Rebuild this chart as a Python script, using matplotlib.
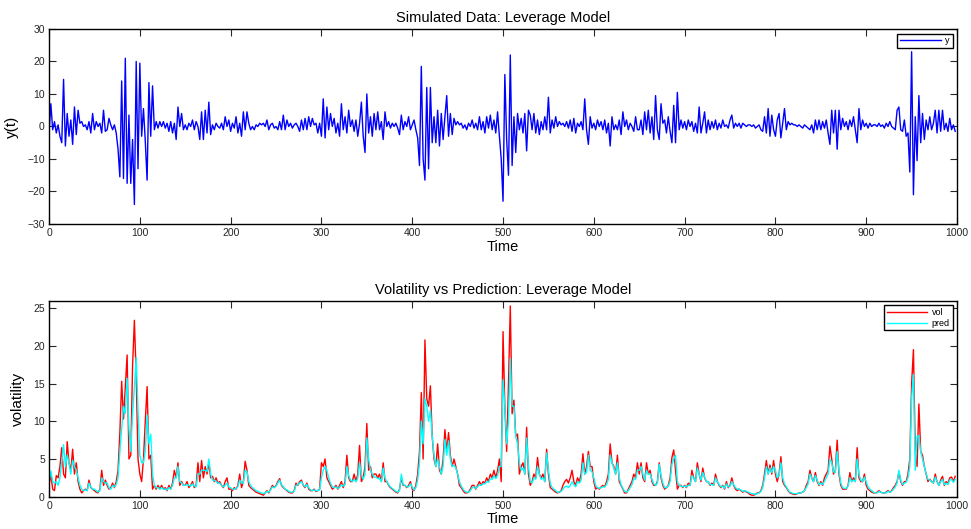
import numpy as np
import matplotlib
matplotlib.use("Agg")
import matplotlib.pyplot as plt

plt.rcParams["font.family"] = ["Liberation Sans", "DejaVu Sans"]

# time index (every second observation of the 1000-step simulation)
t = np.arange(0, 1000, 2)

# simulated returns y(t)
y = [
    -2, 7, -1, 1.5, -2, 0.5, -3, -5, 14.5, -6, 4, -3, 2, -5.5, 6, -2.5, 5, 1, 1.5, 0, 0.5, -1, 1.5, -2, 4,
    -1, 1.5, 0, 1, -2, 5, -1.5, -1, 2.5, 0.5, -1, 0.5, -2, -7, -15.5, 14, -16, 21, -17.5, 3.5, -17.5, -4, -24, 20, -13,
    19.5, -3, 5.5, -4.5, -16.5, 13.5, -3, 12.5, -1, 1.5, -0.5, 1.5, 0, 1.5, -0.5, 1, -1.5, 1.5, -2, 1, -4, 6, 0, 4, -1,
    0.5, -1, 1, 0, 2, -1, 1.5, 0, -4, 4.5, -4, 5, -2, 7.5, -2.5, 0.5, -1, 1, 0, -0.5, 1, -1, 3, 0, 2,
    -1.5, 1, -0.5, 3, -2, 1, -3, 4.5, -1, 4.5, 1, -1, 0, -1, 0.5, 0, 1, 0.5, 1, 0, 2, -1, 0.5, 1, -0.5,
    0, -1, 1.5, -1, 3.5, -1, 2, 0, 1, -0.5, 0.5, 1, 0, -1.5, 2, -1, 2.5, -1, 3, 0, 2.5, 0.5, 1, -2, 1,
    -3, 8.5, -3.5, 6, -1, 4, 0, 2.5, -2, 1, -3, 7, -1, 3, -2, 5, 0, 2, -1.5, 2, -3, 1, 7.5, -3, -8,
    10, -2, 3, -3, 4, -1, 4.5, -1, 1.5, -4, 4.5, 0, 1.5, -0.5, 1, 0, 1, -0.5, -2.5, 3.5, -1, 1.5, 0, 3, -1,
    0.5, 2, -1, -3.5, -12, 18.5, -10, -16.5, 12, -13, 12, -5, 3, -5, 5, -6, 4, -4, 3, 9.5, -3, 4, -2.5, 2.5, 0.5,
    1.5, 0.5, 1, -0.5, 0.5, -1, 1, 0, 2, -0.5, 1, -1, 3, -1, 1.5, -2, 3, -0.5, 3.5, -1, 2, -2, 4.5, -3, -10,
    -23, 16, -4, -15, 22, -12, 3, -8, 4, -1, 2.5, -2, 4, -7.5, 5, 3.5, -1, 4, -2, 2, -2.5, 1.5, -1, 3, -1,
    9, -2, 2, -0.5, 3, 0, 1.5, 0.5, 1, 0, 1.5, -0.5, 2, -1.5, 2.5, -2, 1, 0, 1.5, -1, 8.5, -1, -5.5, 3, -0.5,
    1, -1, 2, 0, 1.5, -1, 2, -2, 1, -6, 3, -1, 0.5, -1, 2, -2.5, 4.5, 0, 2, -1, 1, 0, -1.5, 3, -1,
    -1, 2, -2.5, 4.5, -1, 5, -2, 3, -4, 9.5, -1, -4, 7, 1, 2, -2, 3, -1.5, -5, 6.5, -5, 10.5, -1, 2, -0.5,
    1.5, -1, 2, 0, 1.5, -1.5, 1, -2, 6, -2, 1, 4.5, -2, 2, -1, 1.5, -0.5, 2, -1, 1, -0.5, 2, 0, 0.5, -0.5,
    2, 3.5, -0.5, 1, 0, 1, -0.5, 1, 0.5, 0, 0.5, 0.5, 0, 0.5, -0.5, 0, 0.5, -1, -1.5, 3, -2, 5.5, -3, 3.5, -1,
    -3, 2, 4, -3.5, 1, 5.5, -1, 1.5, 0.5, 1, 0.5, 0.5, 0, 0.5, 0, -0.5, 0.5, 0, -0.5, -1, 0.5, -2, 2, -1, 2,
    -1, 1.5, -0.5, 2, -2, -5.5, 5, -2, 5, -7, 5, -1, 2.5, 0, 1.5, -1, 2, 0, 3, -1, -5, 5.5, -1, 2, 0,
    1, -0.5, 1, 0, 0.5, 0.5, 0, 1, 0, 0.5, -0.5, 1, 0, 1.5, 0, -0.5, -1, 5, 6, -1, -1.5, 2, -3, -2, -14,
    23, -21, 3, -10.5, 9.5, -5, 4, -4, 2, -1, 3, -1, 1, 5, -2, 5, -1.5, 5, -1, 1, -1.5, 2.5, -1, 0.5, -1.5,
]

# true volatility
vol = [
    1.5, 3, 1, 0.8, 2.8, 2.5, 4, 6.5, 3, 2.5, 7.3, 4.5, 3.5, 6.3, 3, 4.5, 2, 1, 0.5, 0.8, 1, 0.8, 2.2, 1.2, 1,
    0.8, 0.6, 0.5, 1, 3.5, 1.5, 2.2, 1.5, 1, 1.2, 1.8, 1.2, 2, 3.5, 8.5, 15.3, 10.3, 14.5, 18.8, 5, 5.5, 17.3, 23.4, 16, 5,
    3, 2, 5, 10, 14.6, 5, 5.5, 1, 1.5, 1, 1.5, 1, 1.5, 1, 1.2, 0.8, 1.5, 1, 1.8, 3.5, 2.5, 4.5, 1.5, 2, 1.5,
    1.5, 2, 1.2, 1.5, 2, 1.2, 1.5, 4.5, 2, 4.8, 2.5, 4, 3, 4.5, 2.5, 2.7, 2, 2.5, 1.8, 2, 1.5, 1.2, 2, 2.5, 1,
    1, 0.8, 1.2, 1, 1.5, 3, 1.2, 2, 4.7, 3.5, 1.5, 1.2, 1, 0.8, 0.6, 0.5, 0.4, 0.3, 0.2, 0.5, 0.8, 0.5, 1, 1.5, 1.2,
    1.5, 2, 2.4, 1.5, 1.2, 1, 0.8, 0.6, 0.5, 0.5, 0.8, 1.8, 1.5, 2, 2.2, 1.5, 1.2, 1.8, 1, 0.8, 0.8, 1, 0.7, 0.8, 1,
    4.5, 4, 5, 2.5, 2, 1.5, 1, 1.2, 1.5, 1, 1.5, 2, 1.2, 2, 5.5, 2.5, 2, 2, 3, 2, 3, 6.8, 2, 2.5, 4,
    9.7, 3.5, 4, 2.5, 3, 3, 2.5, 3, 2, 4.5, 2, 2, 1.5, 1.2, 1, 0.8, 0.6, 0.5, 1, 2.5, 1.5, 1.5, 1.2, 1.5, 2,
    1, 0.8, 1.5, 3, 6, 13.8, 5, 20.8, 13, 12, 14.7, 8, 5, 4, 7, 3.5, 3, 5, 8.9, 6, 8.5, 5.5, 4, 5, 4,
    3, 1.5, 1.2, 0.8, 0.5, 0.5, 0.6, 1, 1.5, 1.5, 1, 1.5, 2, 1.5, 2, 1.8, 2.5, 2, 3, 2.5, 3.5, 2.5, 3.5, 5, 2,
    21.9, 12, 6, 15, 25.3, 11, 12.8, 8, 8.3, 3, 4, 4.5, 3, 9.2, 3, 1.5, 2, 3, 2.5, 5.2, 3, 2.5, 3, 2, 6.3,
    3, 1.2, 1, 0.8, 0.6, 0.5, 0.6, 0.8, 1.5, 2, 2.3, 1.8, 2.5, 3.5, 2, 1.5, 2.5, 2, 3, 5.7, 3, 4, 6, 4, 4,
    2, 1, 1.2, 1, 1.3, 1.5, 1.3, 2, 3, 7, 4.5, 4, 3, 5.5, 2, 1.5, 1, 0.5, 0.5, 1, 1.5, 2, 3, 2.5, 4.5,
    3, 4.5, 2.5, 2, 4.5, 3, 3.5, 2, 1.5, 1.5, 2, 4.5, 2.5, 1.5, 1, 1.2, 1.5, 2.5, 5.2, 6.2, 3.5, 1, 1.5, 1.5, 1.2,
    1.5, 1.2, 1.8, 1.5, 3.5, 2.5, 2, 4.5, 3, 2, 3.8, 2.5, 2, 2, 1.5, 1.8, 1.5, 3, 2, 1.5, 1.2, 1.5, 1, 2, 1.2,
    1.5, 2.5, 1.5, 1, 0.8, 1, 0.8, 0.6, 0.8, 0.6, 0.5, 0.3, 0.2, 0.2, 0.3, 0.5, 0.5, 0.8, 1.5, 3, 4.8, 3, 4.2, 3, 4.8,
    3, 2, 3, 5.3, 2, 1.5, 1.2, 0.8, 0.5, 0.4, 0.3, 0.3, 0.4, 0.5, 0.5, 0.6, 0.8, 1.5, 2, 3.5, 2.5, 2, 3.2, 2, 1.5,
    2, 1.5, 2.5, 3, 3.5, 6.7, 5, 3, 3.5, 7.5, 3, 1.5, 1, 1, 1, 1.5, 3.2, 2, 2.5, 2, 6.5, 2.5, 2, 2, 3,
    1.5, 1, 0.8, 0.6, 0.5, 0.5, 0.6, 0.8, 0.6, 0.5, 0.5, 0.6, 0.8, 0.6, 0.8, 1.2, 1.5, 2, 3.3, 2, 1.5, 2, 2, 3, 5,
    15, 19.5, 6, 4, 12.3, 6, 5.5, 4, 3, 2, 2.3, 2, 1.8, 3, 2, 1.5, 2.2, 2.7, 1.5, 2, 1.8, 2.5, 2.6, 2, 2.7,
]

# predicted volatility
pred = [
    2, 3.4, 2, 1.8, 2, 1.5, 2.5, 4.5, 6.9, 4, 5.5, 4.5, 3, 4.8, 4, 3.5, 2.5, 1.5, 1, 0.8, 0.9, 0.8, 1.8, 1.3, 1,
    1, 0.8, 0.6, 0.8, 2.5, 2, 1.8, 1.8, 1.2, 1, 1.5, 1.3, 1.6, 2.5, 6, 9, 12, 11, 15.7, 9, 6, 11, 14.5, 18.5, 11.5,
    5.5, 4.5, 4.5, 6, 10.8, 7, 8.3, 3, 1.5, 1.2, 1.2, 1, 1.2, 1, 1, 0.9, 1.2, 1, 1.5, 2.5, 2.5, 4, 2, 1.8, 1.5,
    1.5, 1.6, 1.5, 1.4, 1.7, 1.4, 1.3, 3, 3, 3.5, 3.5, 3.5, 3.3, 5, 3, 2.2, 2.2, 2, 1.8, 1.8, 1.5, 1.3, 1.5, 1.8, 1.3,
    1.2, 1, 1, 1.1, 1.3, 2.2, 1.8, 1.8, 3.5, 3.3, 2, 1.5, 1.2, 1, 0.8, 0.7, 0.6, 0.5, 0.4, 0.5, 0.7, 0.6, 0.9, 1.3, 1.2,
    1.4, 1.8, 2.2, 1.6, 1.3, 1, 0.9, 0.7, 0.6, 0.6, 0.7, 1.5, 1.6, 1.8, 2, 1.6, 1.3, 1.6, 1.2, 0.9, 0.8, 0.9, 0.8, 0.8, 0.9,
    2.5, 3.5, 4, 3.5, 2.5, 1.8, 1.3, 1.2, 1.3, 1.1, 1.2, 1.6, 1.4, 1.6, 4, 2.8, 2.2, 2, 2.3, 2, 2.4, 4.5, 3, 2.3, 3,
    7.8, 5, 3.5, 3, 2.6, 2.6, 2.4, 2.4, 2, 3.8, 2.5, 2, 1.6, 1.3, 1.1, 0.9, 0.7, 0.6, 0.8, 3, 1.6, 1.5, 1.3, 1.3, 1.7,
    1.3, 0.9, 1.2, 2.2, 4.5, 10, 7, 13, 12, 10, 11.5, 8, 5.5, 4, 5, 4, 3, 4, 7.6, 5.5, 7.4, 5, 4, 4.2, 3.8,
    3, 2, 1.4, 1, 0.7, 0.6, 0.6, 0.8, 1.2, 1.3, 1.1, 1.3, 1.6, 1.5, 1.7, 1.7, 2, 1.9, 2.4, 2.3, 2.8, 2.4, 2.8, 4, 4,
    15.5, 12, 7, 10, 18.3, 12, 12, 8, 7, 4.5, 3.5, 3.8, 3, 7.8, 4, 2, 1.8, 2.5, 2.3, 4, 3, 2.3, 2.5, 2, 5.8,
    3.5, 1.8, 1.2, 1, 0.8, 0.6, 0.6, 0.7, 1, 1.3, 1.4, 1.2, 1.5, 2, 1.6, 1.3, 2, 1.8, 2.2, 4.5, 3, 3.2, 5.5, 3.5, 3.3,
    2.5, 1.5, 1.2, 1.1, 1.2, 1.3, 1.3, 1.6, 2.3, 5.5, 4.5, 3.8, 3, 4.5, 2.5, 1.6, 1.1, 0.7, 0.6, 0.8, 1.2, 1.6, 2.4, 2.3, 3.5,
    3.5, 4, 3, 2.2, 3.5, 3, 3, 2.3, 1.7, 1.5, 1.8, 4.3, 2.8, 1.8, 1.2, 1.2, 1.4, 2, 4.3, 5, 5.5, 2, 1.5, 1.4, 1.3,
    1.4, 1.3, 1.5, 1.5, 2.8, 2.5, 2, 3.8, 3, 2.2, 3.2, 2.6, 2, 2, 1.6, 1.6, 1.5, 2.5, 2, 1.6, 1.3, 1.4, 1.1, 1.7, 1.3,
    1.4, 2, 1.6, 1.2, 1, 1, 0.9, 0.7, 0.8, 0.7, 0.6, 0.5, 0.4, 0.4, 0.3, 0.4, 0.5, 0.7, 1.2, 2.5, 4, 3, 3.8, 3.2, 4,
    3.5, 2.5, 2.8, 4.5, 2.5, 1.7, 1.3, 0.9, 0.6, 0.5, 0.4, 0.4, 0.4, 0.5, 0.5, 0.6, 0.8, 1.2, 1.7, 3, 2.5, 2, 2.8, 2.2, 1.6,
    1.8, 1.6, 2, 2.5, 3, 5, 4.5, 3.3, 3.2, 6, 3.5, 1.8, 1.2, 1.1, 1.1, 1.4, 2.5, 2, 2.2, 2, 5, 3, 2.2, 2, 2.6,
    2, 1.3, 1, 0.8, 0.6, 0.5, 0.5, 0.7, 0.6, 0.5, 0.5, 0.5, 0.7, 0.6, 0.7, 1, 1.3, 1.8, 3.5, 2.2, 1.6, 1.8, 1.9, 2.5, 4,
    13.2, 16.2, 3.5, 8, 8.1, 6, 5, 4, 3, 2.3, 2.2, 2, 1.8, 2.6, 2, 1.5, 2, 2.3, 1.6, 1.8, 1.6, 2.2, 2.3, 1.9, 2.3,
]


def style_axes(ax):
    ax.tick_params(direction="in", length=5, width=0.8, top=True, right=True,
                   labelsize=7.5, colors="#262626", pad=3)
    for s in ax.spines.values():
        s.set_linewidth(1.0)
        s.set_color("black")


fig = plt.figure(figsize=(9.71, 5.29), dpi=100)
ax1 = fig.add_axes([0.0505, 0.5766, 0.9351, 0.3686])
ax2 = fig.add_axes([0.0505, 0.0611, 0.9351, 0.3705])

# top: simulated series
ax1.plot(t, y, color="blue", lw=1.0, label="y")
ax1.set_xlim(0, 1000)
ax1.set_ylim(-30, 30)
ax1.set_xticks(np.arange(0, 1001, 100))
ax1.set_yticks(np.arange(-30, 31, 10))
ax1.set_title("Simulated Data: Leverage Model", fontsize=10.5, pad=5)
ax1.set_xlabel("Time", fontsize=10.5, labelpad=1)
ax1.set_ylabel("y(t)", fontsize=11, labelpad=6)
style_axes(ax1)
leg1 = ax1.legend(loc="upper right", fontsize=6.5, handlelength=4.5, borderaxespad=0.5,
                  fancybox=False, framealpha=1, edgecolor="black", borderpad=0.3,
                  handletextpad=0.5)
leg1.get_frame().set_linewidth(1.0)

# bottom: volatility vs prediction
ax2.plot(t, vol, color="red", lw=1.0, label="vol")
ax2.plot(t, pred, color="cyan", lw=1.0, label="pred")
ax2.set_xlim(0, 1000)
ax2.set_ylim(0, 26)
ax2.set_xticks(np.arange(0, 1001, 100))
ax2.set_yticks(np.arange(0, 26, 5))
ax2.set_title("Volatility vs Prediction: Leverage Model", fontsize=10.5, pad=5)
ax2.set_xlabel("Time", fontsize=10.5, labelpad=1)
ax2.set_ylabel("volatility", fontsize=11, labelpad=6)
style_axes(ax2)
leg2 = ax2.legend(loc="upper right", fontsize=6.5, handlelength=4.5, borderaxespad=0.5,
                  fancybox=False, framealpha=1, edgecolor="black", borderpad=0.3,
                  handletextpad=0.5, labelspacing=0.2)
leg2.get_frame().set_linewidth(1.0)

fig.savefig("out.png", dpi=100)
